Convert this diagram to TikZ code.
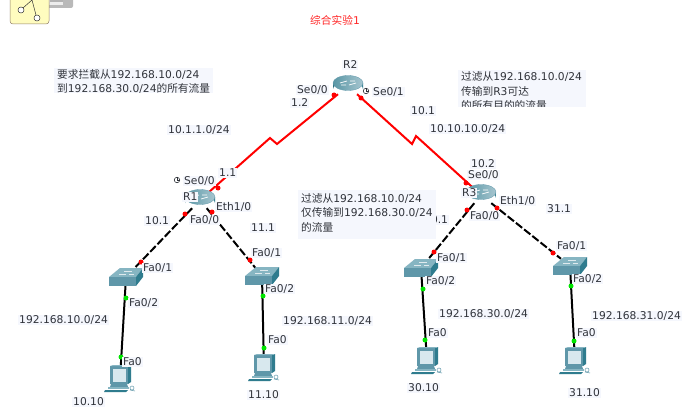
\documentclass[tikz,border=0pt]{standalone}
\usepackage{fontspec}
\setmainfont{DejaVu Sans}
\newfontfamily\cjk{Noto Sans CJK SC}
\definecolor{lblbg}{HTML}{F5F7FD}
\definecolor{ink}{HTML}{30333A}
\definecolor{teal}{HTML}{5F97A9}
\definecolor{tealdark}{HTML}{2F7C8E}
\definecolor{teallight}{HTML}{86B5C2}
\definecolor{screen}{HTML}{D8E8EE}
\tikzset{
 x=1pt,y=-1pt,
 lbl/.style={anchor=west,inner sep=1pt,fill=lblbg,text=ink,font=\fontsize{10.7}{10.7}\selectfont,text height=7.5pt,text depth=1pt},
 note/.style={anchor=west,inner sep=0pt,text=ink,font=\fontsize{10.7}{10.7}\selectfont},
 routerbox/.style={rectangle,inner sep=0pt,minimum width=28pt,minimum height=16pt},
 switchbox/.style={rectangle,inner sep=0pt,minimum width=24pt,minimum height=14pt},
 pcbox/.style={rectangle,inner sep=0pt,minimum width=20pt,minimum height=22pt},
 serial/.style={draw=red,line width=2pt,line join=miter},
 trunk/.style={draw=black,line width=2pt,dash pattern=on 8pt off 2.5pt},
 access/.style={draw=black,line width=2pt},
 reddot/.style={circle,fill=red,inner sep=0pt,minimum size=5pt},
 greendot/.style={circle,fill=green!90!black,inner sep=0pt,minimum size=5pt},
 clk/.style={circle,draw=ink,line width=.6pt,inner sep=0pt,minimum size=5.5pt},
 pics/routericon/.style={code={
   \shade[left color=tealdark!90!black,right color=tealdark,middle color=white!70!teal]
     (-15,-3) -- (-15,3) arc[start angle=180,end angle=360,x radius=15,y radius=8] -- (15,-3) -- cycle;
   \shade[left color=tealdark!80!white,right color=teal!55!white,draw=teal,line width=.3pt] (0,-3) ellipse[x radius=15,y radius=7.5];
   \draw[white,line width=.7pt] (-8,-3) -- (-1,-5) (1,-1) -- (8,-3) (-7,-1) -- (-2,-1) (2,-5) -- (7,-5);
 }},
 pics/switchicon/.style={code={
   \fill[teallight] (-17,0) -- (-6,-9) -- (17,-9) -- (10,0) -- cycle;
   \fill[teal] (-17,0) rectangle (10,9);
   \fill[tealdark] (10,0) -- (17,-9) -- (17,0) -- (10,9) -- cycle;
   \draw[white!80!teal,line width=.4pt] (-7,-3) -- (0,-3) (-2,-6) -- (6,-6) (3,-3) -- (8,-3);
 }},
 pics/pcicon/.style={code={
   \fill[teal] (-10,-13) rectangle (8,5);
   \fill[tealdark] (8,-13) -- (11,-14) -- (11,3) -- (8,5) -- cycle;
   \fill[teallight] (-10,-13) -- (-7,-14) -- (11,-14) -- (8,-13) -- cycle;
   \fill[screen] (-7.5,-10.5) rectangle (5.5,2.5);
   \fill[teal] (-9,5) -- (7,5) -- (8,8) -- (-10,8) -- cycle;
   \fill[teallight] (-12,8) -- (9,8) -- (9,10) -- (-12,10) -- cycle;
   \fill[tealdark] (-15,11) -- (8,11) -- (6,13) -- (-16,13) -- cycle;
   \draw[teal,line width=.5pt] (12,9) circle (2) (10,11) -- (15,12);
 }},
}
\begin{document}
\begin{tikzpicture}
\useasboundingbox (0,0) rectangle (692,409);
\fill[white] (0,0) rectangle (692,409);
% toolbar icon
\begin{scope}
\clip (0,0) rectangle (692,409);
\fill[gray!55,rounded corners=2pt] (40,-6) rectangle (73,8);
\fill[gray!15] (48,-2) rectangle (63,5);
\fill[gray!60] (50,0) rectangle (63,2);
\draw[gray!70!brown,fill=yellow!25!white,rounded corners=3pt,line width=.5pt] (10,-8) rectangle (49,24);
\draw[gray!40!black,line width=.5pt] (32,0) -- (23,8) (32,0) -- (36,15);
\draw[gray!40!black,fill=white,line width=.5pt] (21,10) circle (3) (37,18) circle (3);
\end{scope}
% devices (named, empty boxes; icons follow after the links)
\node[routerbox] (R2) at (348,86) {};
\node[routerbox] (R1) at (200,200) {};
\node[routerbox] (R3) at (481,195) {};
\node[switchbox] (SW1) at (126,277) {};
\node[switchbox] (SW2) at (262,276) {};
\node[switchbox] (SW3) at (421,268) {};
\node[switchbox] (SW4) at (570,266) {};
\node[pcbox] (PC1) at (120,379) {};
\node[pcbox] (PC2) at (264,368) {};
\node[pcbox] (PC3) at (427,361) {};
\node[pcbox] (PC4) at (575,361) {};
\coordinate (z1) at (270,138);
\coordinate (z2) at (277,144);
\coordinate (z3) at (412,144);
\coordinate (z4) at (416,136);
% links
\draw[serial] (R1) -- (z1) -- (z2) -- (R2);
\draw[serial] (R2) -- (z3) -- (z4) -- (R3);
\draw[trunk] (R1) -- (SW1);
\draw[trunk] (R1) -- (SW2);
\draw[trunk] (R3) -- (SW3);
\draw[trunk] (R3) -- (SW4);
\draw[access] (SW1) -- (PC1);
\draw[access] (SW2) -- (PC2);
\draw[access] (SW3) -- (PC3);
\draw[access] (SW4) -- (PC4);
% icons
\pic at (R2) {routericon};
\pic at (R1) {routericon};
\pic at (R3) {routericon};
\pic at (SW1) {switchicon};
\pic at (SW2) {switchicon};
\pic at (SW3) {switchicon};
\pic at (SW4) {switchicon};
\pic at (PC1) {pcicon};
\pic at (PC2) {pcicon};
\pic at (PC3) {pcicon};
\pic at (PC4) {pcicon};
% link lights
\foreach \n/\p in {a/{218,188},b/{334,95},c/{361,98},d/{466,183},e/{185,214},f/{141,262},g/{212,212},h/{250,260},i/{467,210},j/{434,252},k/{497,208},l/{553,253}}{
  \node[reddot] (dot\n) at (\p) {};
}
\foreach \n/\p in {m/{126,298},n/{121,357},o/{263,296},q/{264,348},r/{423,289},s/{425,340},t/{571,286},u/{574,341}}{
  \node[greendot] (dot\n) at (\p) {};
}
% clocks
\node[clk] (c1) at (177,180) {};
\draw[ink,line width=.5pt] (c1.center) -- (c1.north) (c1.center) -- (c1.east);
\node[clk] (c2) at (366,91) {};
\draw[ink,line width=.5pt] (c2.center) -- (c2.north) (c2.center) -- (c2.east);
% title
\node[anchor=west,inner sep=0pt,text=red!85!white,font=\fontsize{10.7}{10.7}\selectfont] (title) at (310,20) {\cjk 综合实验\rmfamily 1};
% labels
\foreach \n/\x/\y/\t in {
 l1/342/65/{R2}, l2/296/90/{Se0/0}, l3/290/103/{1.2}, l4/167/130/{10.1.1.0/24},
 l5/183/181/{Se0/0}, l6/218/173/{1.1}, l7/182/197/{R1}, l8/215/207/{Eth1/0},
 l9/189/220/{Fa0/0}, l10/144/221/{10.1}, l11/250/228/{11.1}, l12/142/268/{Fa0/1},
 l13/251/253/{Fa0/1}, l14/128/303/{Fa0/2}, l15/264/289/{Fa0/2}, l16/18/320/{192.168.10.0/24},
 l17/282/321/{192.168.11.0/24}, l18/267/340/{Fa0}, l19/122/362/{Fa0}, l20/72/402/{10.10},
 l21/247/395/{11.10}, l22/372/92/{Se0/1}, l23/410/111/{10.1}, l24/429/129/{10.10.10.0/24},
 l25/470/164/{10.2}, l26/467/175/{Se0/0}, l27/461/193/{R3}, l28/499/201/{Eth1/0},
 l29/469/216/{Fa0/0}, l30/546/209/{31.1}, l31/436/258/{Fa0/1}, l32/425/281/{Fa0/2},
 l33/438/314/{192.168.30.0/24}, l34/427/333/{Fa0}, l35/407/388/{30.10}, l36/556/246/{Fa0/1},
 l37/572/279/{Fa0/2}, l38/591/316/{192.168.31.0/24}, l39/576/333/{Fa0}, l40/568/393/{31.10},
 l41/423/220/{30.1}}{
  \node[lbl] (\n) at (\x,\y) {\t};
}
% note boxes
\fill[lblbg] (54,68) rectangle (213,93);
\node[note] (n1) at (57,75) {\cjk 要求拦截从\rmfamily 192.168.10.0/24};
\node[note] (n2) at (57,88) {\cjk 到\rmfamily 192.168.30.0/24\cjk 的所有流量};
\fill[lblbg] (298,190) rectangle (436,239);
\node[note] (n3) at (301,198) {\cjk 过滤从\rmfamily 192.168.10.0/24};
\node[note] (n4) at (301,212) {\cjk 仅传输到\rmfamily 192.168.30.0/24};
\node[note] (n5) at (301,227) {\cjk 的流量};
\fill[lblbg] (458,70) rectangle (586,107);
\node[note] (n6) at (461,77) {\cjk 过滤从\rmfamily 192.168.10.0/24};
\node[note] (n7) at (461,91) {\cjk 传输到\rmfamily R3\cjk 可达};
\begin{scope}
\clip (458,70) rectangle (586,106.5);
\node[note] (n8) at (461,105.5) {\cjk 的所有目的的流量};
\end{scope}
\end{tikzpicture}
\end{document}
